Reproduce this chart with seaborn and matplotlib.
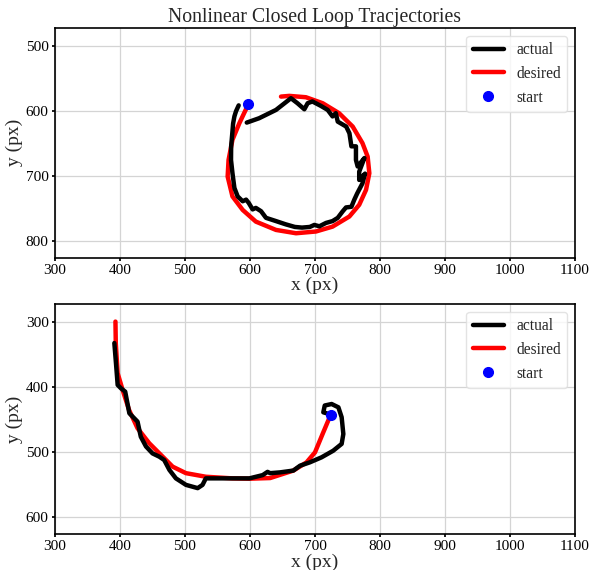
import numpy as np
import pandas as pd
import matplotlib
matplotlib.use("Agg")
import matplotlib.pyplot as plt
import seaborn as sns

# ---- data ----
top_actual_x = [582.6, 578.5, 576, 574, 573, 571, 570.8, 573, 576, 581, 588.7, 594, 598, 604, 609, 617,
                624.6, 640, 655, 669, 680, 692, 699, 706.7, 717, 727, 735, 742.6, 747.7, 756, 760.5,
                764.8, 773, 777, 768, 768, 776, 765.6, 763, 763, 756, 753, 748, 735, 732, 727, 719.5,
                709, 696, 688.7, 683.6, 673, 663, 640, 614, 595]
top_actual_y = [592, 601, 609, 620, 632, 655, 676, 696, 719, 732, 739.5, 737, 742, 752, 749.7, 754.8,
                765, 770, 775, 779, 780, 779, 775.9, 778, 772.8, 770, 765, 755, 749, 748, 737,
                727.7, 712, 697, 706.7, 694, 673, 686, 676, 655, 655, 635, 624.6, 617, 604, 609, 599,
                592.8, 586, 588.7, 598, 588.7, 581, 599, 611.8, 618.5]
top_desired_x = [595, 593.8, 583.6, 573, 567, 565.6, 573, 588.7, 609, 640, 670.8, 701.5, 727, 752.8,
                 768, 778.5, 783.6, 781, 773, 758, 737, 711.8, 686, 660.5, 647.7]
top_desired_y = [593, 598, 619.5, 645, 676, 701.5, 732, 752.8, 770.8, 783.6, 788.7, 786, 778.5, 763,
                 745, 722, 696.4, 670.8, 650, 624.6, 604, 588.7, 579.5, 577.4, 578.5]
top_start = (597.4, 590.3)

bot_actual_x = [718, 712.8, 715, 725.6, 736, 741, 743.6, 741, 728, 710, 692, 677, 666.7, 646, 631, 627,
                619.5, 599, 573, 542.6, 532, 527, 519.5, 501.5, 486, 476, 468, 460.5, 450, 440, 432,
                427, 422, 414.4, 408, 401.5, 396.4, 393.8, 391.3]
bot_actual_y = [441, 439.5, 429, 426.7, 431.8, 447, 472.8, 488, 498.5, 508.7, 516.4, 521.5, 529, 531.8,
                533, 531, 536, 541, 541, 541, 541, 551, 556, 551, 541, 528, 512.8, 507.7, 502.6, 492,
                477, 453.8, 448.7, 441, 407.7, 402.6, 397.4, 364, 333]
bot_desired_x = [724, 712, 700, 687, 666.7, 631, 600, 573, 532, 501.5, 481, 463, 445, 427, 414, 404,
                 396.4, 393.5, 393]
bot_desired_y = [443.6, 472, 501, 516.4, 529, 540.5, 541.5, 541, 538.5, 533, 523, 505, 487, 464, 436,
                 405, 379.5, 333, 300]
bot_start = (724, 443.6)

panels = [
    dict(ax_x=top_actual_x, ax_y=top_actual_y, d_x=top_desired_x, d_y=top_desired_y,
         start=top_start, ylim=(826, 473), yticks=[500, 600, 700, 800]),
    dict(ax_x=bot_actual_x, ax_y=bot_actual_y, d_x=bot_desired_x, d_y=bot_desired_y,
         start=bot_start, ylim=(626.5, 273), yticks=[300, 400, 500, 600]),
]
xticks = [300, 400, 500, 600, 700, 800, 900, 1000, 1100]

sns.set_theme(style="whitegrid")
plt.rcParams.update({
    "font.family": ["Liberation Serif", "DejaVu Serif"],
    "axes.edgecolor": "black",
    "axes.linewidth": 1.2,
    "grid.color": "#d4d4d4",
    "grid.linewidth": 0.9,
    "xtick.bottom": True,
    "ytick.left": True,
    "xtick.major.size": 2.5,
    "ytick.major.size": 2.5,
    "xtick.major.pad": 2,
    "ytick.major.pad": 2,
    "xtick.color": "black",
    "ytick.color": "black",
    "xtick.labelsize": 11,
    "ytick.labelsize": 11,
    "axes.labelsize": 14,
    "legend.fontsize": 11.2,
})

fig = plt.figure(figsize=(5.92, 5.70), dpi=100)
W, H = 592, 570
boxes = [(55, 28, 575, 257.5), (55, 304, 575, 534)]

for p, (l, t, r, b) in zip(panels, boxes):
    ax = fig.add_axes([l / W, 1 - b / H, (r - l) / W, (b - t) / H])
    dfa = pd.DataFrame({"x": p["ax_x"], "y": p["ax_y"]})
    dfd = pd.DataFrame({"x": p["d_x"], "y": p["d_y"]})
    sns.lineplot(data=dfa, x="x", y="y", sort=False, estimator=None, color="black",
                 linewidth=3.2, label="actual", ax=ax, zorder=4)
    sns.lineplot(data=dfd, x="x", y="y", sort=False, estimator=None, color="red",
                 linewidth=3.2, label="desired", ax=ax, zorder=3)
    ax.plot([p["start"][0]], [p["start"][1]], "o", color="blue", markersize=7,
            label="start", zorder=5, linestyle="none")
    ax.set_xlim(300, 1100)
    ax.set_ylim(*p["ylim"])
    ax.set_xticks(xticks)
    ax.set_yticks(p["yticks"])
    ax.set_xlabel("x (px)", labelpad=0)
    ax.set_ylabel("y (px)", labelpad=2)
    for s in ax.spines.values():
        s.set_color("black")
    leg = ax.legend(loc="upper right", numpoints=1, frameon=True, framealpha=0.8,
                    edgecolor="#dddddd", fancybox=True)
    if p is panels[0]:
        ax.set_title("Nonlinear Closed Loop Tracjectories", fontsize=14.2, pad=4)

fig.savefig("out.png", dpi=100)
